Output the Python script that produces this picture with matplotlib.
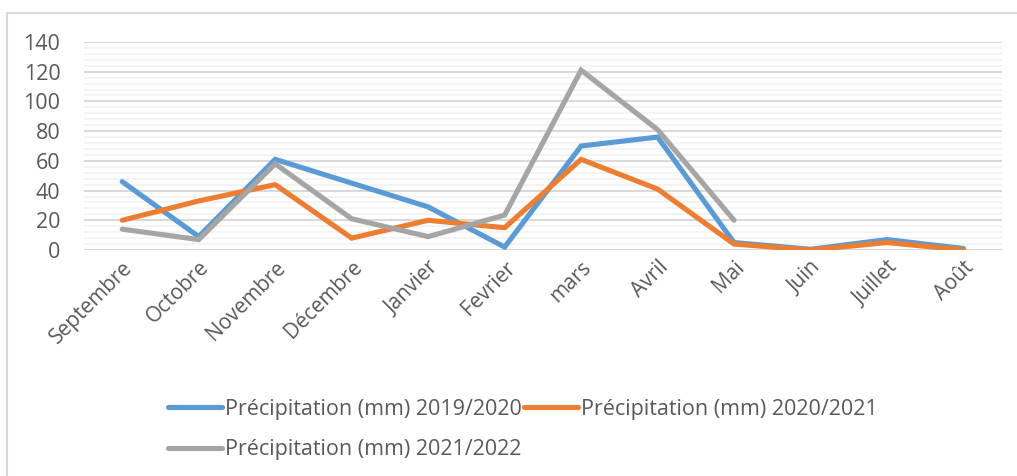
import numpy as np
import matplotlib
matplotlib.use("Agg")
import matplotlib.pyplot as plt
from matplotlib.patches import Rectangle
from matplotlib.ticker import MultipleLocator

mois = ["Septembre", "Octobre", "Novembre", "Décembre", "Janvier", "Fevrier",
        "mars", "Avril", "Mai", "Juin", "Juillet", "Août"]

p_2019_2020 = [46, 9, 61, 45, 29, 2, 70, 76, 5, 0.5, 7, 1]
p_2020_2021 = [20, 33, 44, 8, 20, 15, 61, 41, 4, 0, 5, 0]
p_2021_2022 = [14, 7, 58, 21, 9, 23.5, 121, 81, 20, np.nan, np.nan, np.nan]

series = [
    ("Précipitation (mm) 2019/2020", p_2019_2020, "#5B9BD5"),
    ("Précipitation (mm) 2020/2021", p_2020_2021, "#ED7D31"),
    ("Précipitation (mm) 2021/2022", p_2021_2022, "#A5A5A5"),
]

plt.rcParams['font.family'] = ['Open Sans', 'DejaVu Sans']

fig = plt.figure(figsize=(10.17, 4.76), dpi=100)
ax = fig.add_axes([0.0826, 0.4748, 0.9024, 0.437])

x = np.arange(len(mois))
handles = []
for label, vals, col in series:
    h, = ax.plot(x, vals, color=col, lw=3.7, solid_joinstyle='miter',
                 solid_capstyle='round', label=label, zorder=3)
    handles.append(h)

ax.set_xlim(-0.5, len(mois) - 0.5)
ax.set_ylim(0, 140)
ax.yaxis.set_major_locator(MultipleLocator(20))
ax.yaxis.set_minor_locator(MultipleLocator(4))
ax.grid(which='major', axis='y', color='#D9D9D9', lw=1.5)
ax.grid(which='minor', axis='y', color='#F2F2F2', lw=1.2)
ax.set_axisbelow(True)
for s in ax.spines.values():
    s.set_visible(False)
ax.tick_params(which='both', length=0)
ax.tick_params(axis='y', labelsize=15.5, labelcolor='#595959', pad=17)
ax.set_xticks(x)
ax.set_xticklabels(mois, rotation=45, ha='right', rotation_mode='anchor',
                   fontsize=15, color='#595959')
ax.tick_params(axis='x', pad=5)

# ordre row-major: bleu, orange sur la 1re ligne, gris sur la 2e
leg_order = [handles[0], handles[2], handles[1]]
fig.legend(handles=leg_order, loc='upper left', bbox_to_anchor=(0.146, 0.203),
           ncol=2, frameon=False, fontsize=15.5, handlelength=2.5,
           handletextpad=0.15, columnspacing=0.1, labelspacing=0.9,
           labelcolor='#595959')

fig.patches.append(Rectangle((7 / 1017, -0.1), 1.2, 1 - 13 / 476 + 0.1,
                             transform=fig.transFigure, fill=False,
                             edgecolor='#D9D9D9', lw=1.5))

fig.savefig("out.png", dpi=100)
